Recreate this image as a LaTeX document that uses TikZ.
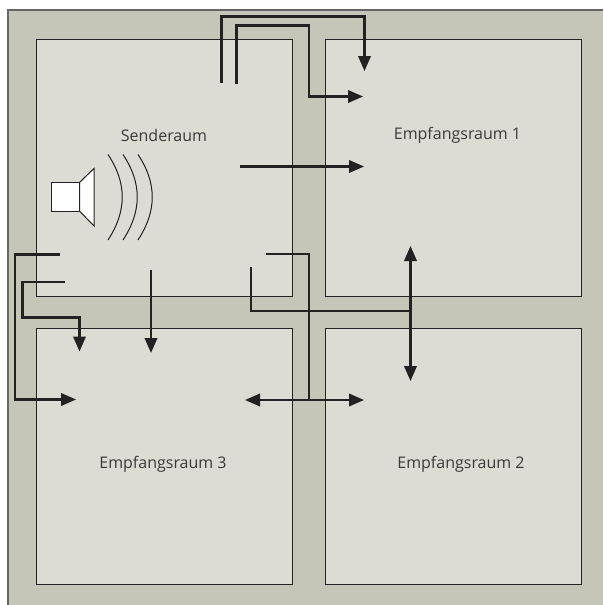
\documentclass[tikz,border=0pt]{standalone}
\usepackage{fontspec}
\setmainfont{Open Sans}
\usetikzlibrary{arrows.meta}
\definecolor{wall}{HTML}{C6C6B8}
\definecolor{room}{HTML}{DCDCD4}
\definecolor{ink}{HTML}{222222}
\definecolor{txt}{HTML}{3A3A3A}
\tikzset{
  x=1pt,y=-1pt,
  roombox/.style={draw=ink,fill=room,line width=0.95pt},
  path1/.style={draw=ink,line width=2.1pt,miter limit=10},
  sound/.style={path1,-{Triangle[length=15pt,width=12.5pt]}},
  sound2/.style={path1,{Triangle[length=15pt,width=12.5pt]}-{Triangle[length=15pt,width=12.5pt]}},
  lab/.style={font=\fontsize{16}{18}\selectfont,text=txt,inner sep=0pt},
  spk/.style={draw=ink,fill=white,line width=1pt,line join=miter},
  wave/.style={draw=ink,line width=1pt}
}
\begin{document}
\begin{tikzpicture}
\useasboundingbox (0,0) rectangle (603,605);
\fill[white] (0,0) rectangle (603,605);
\fill[wall] (8,10) rectangle (603,605);
\draw[draw=black!60,line width=1.1pt] (8,605) -- (8,10) -- (603,10);
\draw[roombox] (36,39.5) rectangle (292.5,296);
\draw[roombox] (325,39.5) rectangle (581,296);
\draw[roombox] (36,328) rectangle (292.5,584);
\draw[roombox] (325,328) rectangle (581,584);
\node[lab] (s) at (164,135) {Senderaum};
\node[lab] (e1) at (457.5,135) {Empfangsraum 1};
\node[lab] (e3) at (163,464) {Empfangsraum 3};
\node[lab] (e2) at (461,464) {Empfangsraum 2};
% speaker
\draw[spk] (51,182.5) rectangle (79.5,211);
\draw[spk] (79.5,182.5) -- (94,168.5) -- (94,226) -- (79.5,211) -- cycle;
\foreach \d in {0,15,30}
  \draw[wave] (108+\d,154.5) .. controls (127+\d,183) and (127+\d,211) .. (108+\d,240);
% named ends
\coordinate (a0) at (221.5,83); \coordinate (a1) at (364.5,71);
\coordinate (b0) at (236.5,84); \coordinate (b1) at (363,96.5);
\coordinate (c0) at (240,166.5); \coordinate (c1) at (364,166.5);
\coordinate (d0) at (60,254.5); \coordinate (d1) at (76,399.5);
\coordinate (e0) at (65,282); \coordinate (e9) at (79.5,351.5);
\coordinate (f0) at (151,269.5); \coordinate (f1) at (151,353);
\coordinate (g0) at (265.5,254); \coordinate (g1) at (309,400);
\coordinate (h0) at (251,267); \coordinate (h1) at (410.5,311);
\coordinate (i0) at (410.5,246); \coordinate (i1) at (410.5,381);
\coordinate (j0) at (245,400); \coordinate (j1) at (364,400);
\draw[sound] (a0) -- (221.5,16.5) -- (364.5,16.5) -- (a1);
\draw[sound] (b0) -- (236.5,25.5) -- (309,25.5) -- (309,96.5) -- (b1);
\draw[sound] (c0) -- (c1);
\draw[sound] (d0) -- (14.7,254.5) -- (14.7,399.5) -- (d1);
\draw[sound] (e0) -- (22.5,282) -- (22.5,317.5) -- (79.5,317.5) -- (e9);
\draw[sound] (f0) -- (f1);
\draw[path1] (g0) -- (309,254) -- (g1);
\draw[path1] (h0) -- (251,311) -- (h1);
\draw[sound2] (i0) -- (i1);
\draw[sound2] (j0) -- (j1);
\end{tikzpicture}
\end{document}
